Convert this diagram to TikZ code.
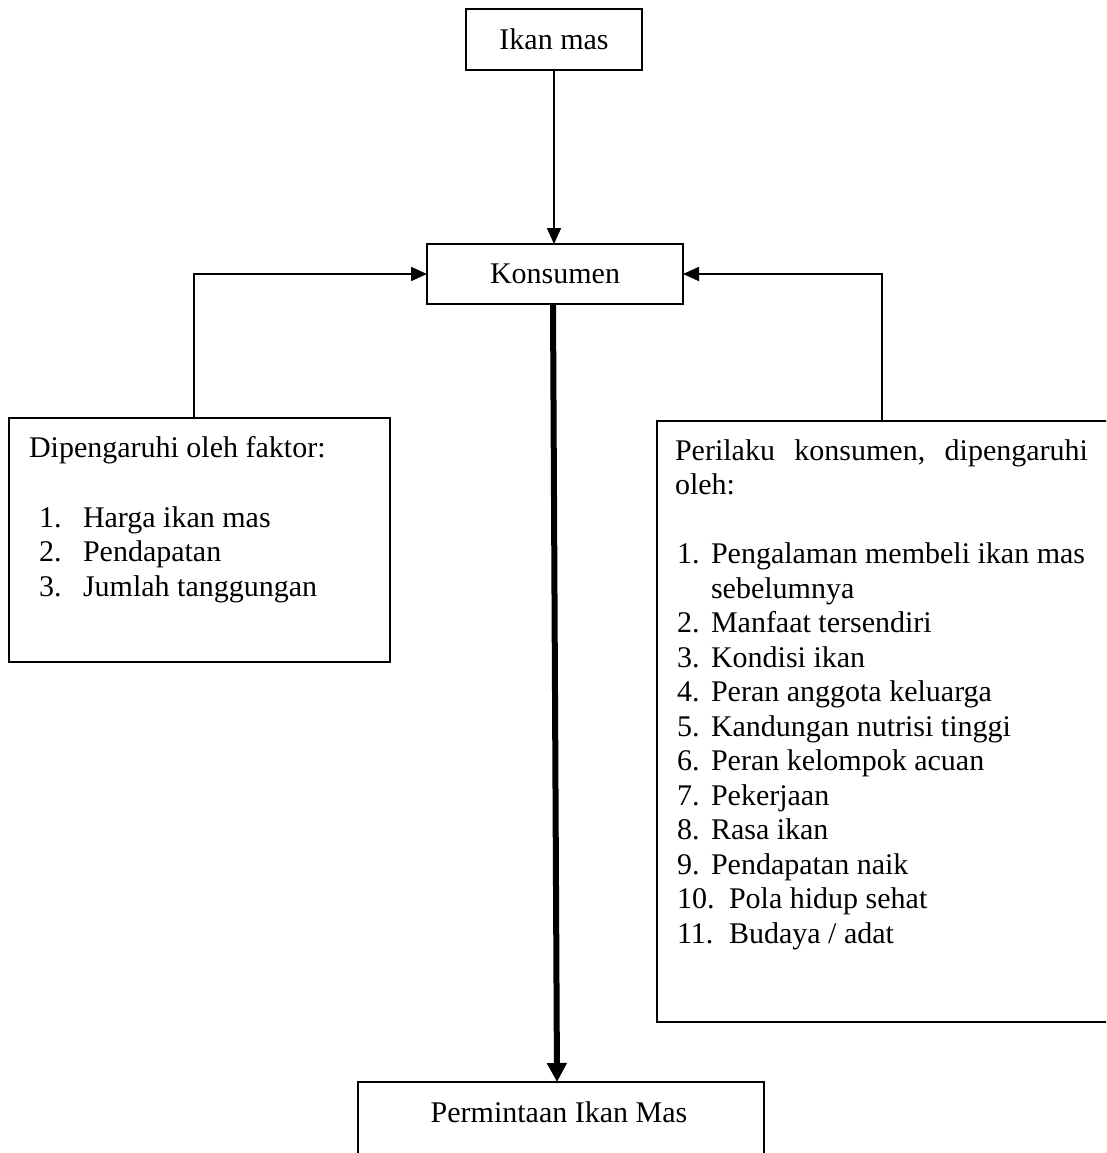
\documentclass[tikz,border=0pt]{standalone}
\usepackage{fontspec}
\setmainfont{Liberation Serif}
\usetikzlibrary{arrows.meta}
\begin{document}
\begin{tikzpicture}[x=1pt,y=-1pt,
  every node/.style={font=\fontsize{30}{34.5}\selectfont, inner sep=0pt, outer sep=0pt},
  box/.style={draw, line width=1.7pt, rectangle, inner sep=0pt, anchor=north west},
  txt/.style={anchor=base west},
  ctxt/.style={anchor=base},
  thinarr/.style={line width=1.7pt, -{Triangle[length=16pt,width=14pt]}},
  thickarr/.style={line width=6pt, -{Triangle[length=19pt,width=19pt]}}]
\clip (0,0) rectangle (1106,1153);
% boxes
\node[box, minimum width=176pt, minimum height=61pt] (ikan) at (466,9) {};
\node[box, minimum width=256pt, minimum height=60pt] (kons) at (427,244) {};
\node[box, minimum width=381pt, minimum height=244pt] (lbox) at (9,418) {};
\node[box, minimum width=500pt, minimum height=601pt] (rbox) at (657,421) {};
\node[box, minimum width=406pt, minimum height=120pt] (perm) at (358,1082) {};
% texts
\node[ctxt] (ikant) at (554,50) {Ikan mas};
\node[ctxt] (konst) at (555,283) {Konsumen};
\node[ctxt] (permt) at (559,1122) {Permintaan Ikan Mas};
% left box text
\node[txt] (lh) at (29,457) {Dipengaruhi oleh faktor:};
\node[txt] (ln1) at (39,527) {1.};   \node[txt] (li1) at (83,527) {Harga ikan mas};
\node[txt] (ln2) at (39,561.5) {2.}; \node[txt] (li2) at (83,561.5) {Pendapatan};
\node[txt] (ln3) at (39,596) {3.};   \node[txt] (li3) at (83,596) {Jumlah tanggungan};
% right box text
\node[txt] (rh1) at (675,460) {\hbox to 413pt{Perilaku\hfill konsumen,\hfill dipengaruhi}};
\node[txt] (rh2) at (675,494.5) {oleh:};
\foreach \n/\t [count=\i from 0] in {1./Pengalaman membeli ikan mas, /sebelumnya, 2./Manfaat tersendiri, 3./Kondisi ikan, 4./Peran anggota keluarga, 5./Kandungan nutrisi tinggi, 6./Peran kelompok acuan, 7./Pekerjaan, 8./Rasa ikan, 9./Pendapatan naik}{
  \node[txt] (rn\i) at (677,563.5+34.5*\i) {\n};
  \node[txt] (ri\i) at (711,563.5+34.5*\i) {\t};
}
\node[txt] (rn10) at (677,908.5) {10.}; \node[txt] (ri10) at (729,908.5) {Pola hidup sehat};
\node[txt] (rn11) at (677,943) {11.};   \node[txt] (ri11) at (729,943) {Budaya / adat};
% connectors
\coordinate (lc) at (194,418);
\coordinate (rc) at (882,421);
\coordinate (ks) at (553,304);
\coordinate (pn) at (557,1082);
\draw[thinarr] (ikan.south) -- (ikan.south |- kons.north);
\draw[thinarr] (lc) |- (kons.west);
\draw[thinarr] (rc) |- (kons.east);
\draw[thickarr] (ks) -- (pn);
\end{tikzpicture}
\end{document}
